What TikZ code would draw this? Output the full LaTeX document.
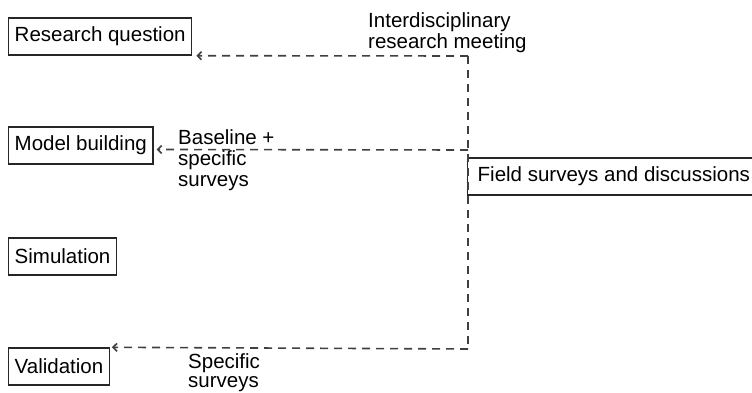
\documentclass[tikz,border=0pt]{standalone}
\usepackage{fontspec}
\setmainfont{Liberation Sans}
\usetikzlibrary{arrows.meta}
\begin{document}
\begin{tikzpicture}[x=1pt, y=-1pt,
  box/.style={draw=black!85, line width=1.4pt, minimum height=37pt, inner xsep=6pt, anchor=west, font=\fontsize{20.5}{21}\selectfont},
  lbl/.style={anchor=north west, align=left, inner sep=0pt, font=\fontsize{20.5}{21}\selectfont},
  flow/.style={draw=black!75, line width=1.6pt, dash pattern=on 8pt off 6pt}]
  \useasboundingbox (0,0) rectangle (752,393);

  % Steps
  \node[box] (rq) at (8,36.5) {Research question};
  \node[box] (mb) at (8,145.5) {Model building};
  \node[box] (sim) at (8,256.5) {Simulation};
  \node[box] (val) at (8,366.5) {Validation};
  \node[box, inner xsep=10pt] (field) at (467,176.5) {Field surveys and discussions};

  % Feedback from the field
  \coordinate (top) at (468,56);
  \coordinate (mid) at (468,150);
  \coordinate (bot) at (468,349);
  \draw[flow] (top) -- (bot);
  \draw[flow, -{Straight Barb[length=4pt,width=8pt]}] (top) -- ([xshift=4pt]rq.south east);
  \draw[flow, -{Straight Barb[length=4pt,width=8pt]}] (mid) -- ([xshift=3pt, yshift=-4pt]mb.east);
  \draw[flow, -{Straight Barb[length=4pt,width=8pt]}] (bot) -- ([xshift=2pt]val.north east);

  % Labels
  \node[lbl] (meet) at (368,12) {Interdisciplinary\\research meeting};
  \node[lbl] (base) at (178,129) {Baseline +\\specific\\surveys};
  \node[lbl, font=\fontsize{20.5}{19}\selectfont] (spec) at (188,353) {Specific\\surveys};
\end{tikzpicture}
\end{document}
